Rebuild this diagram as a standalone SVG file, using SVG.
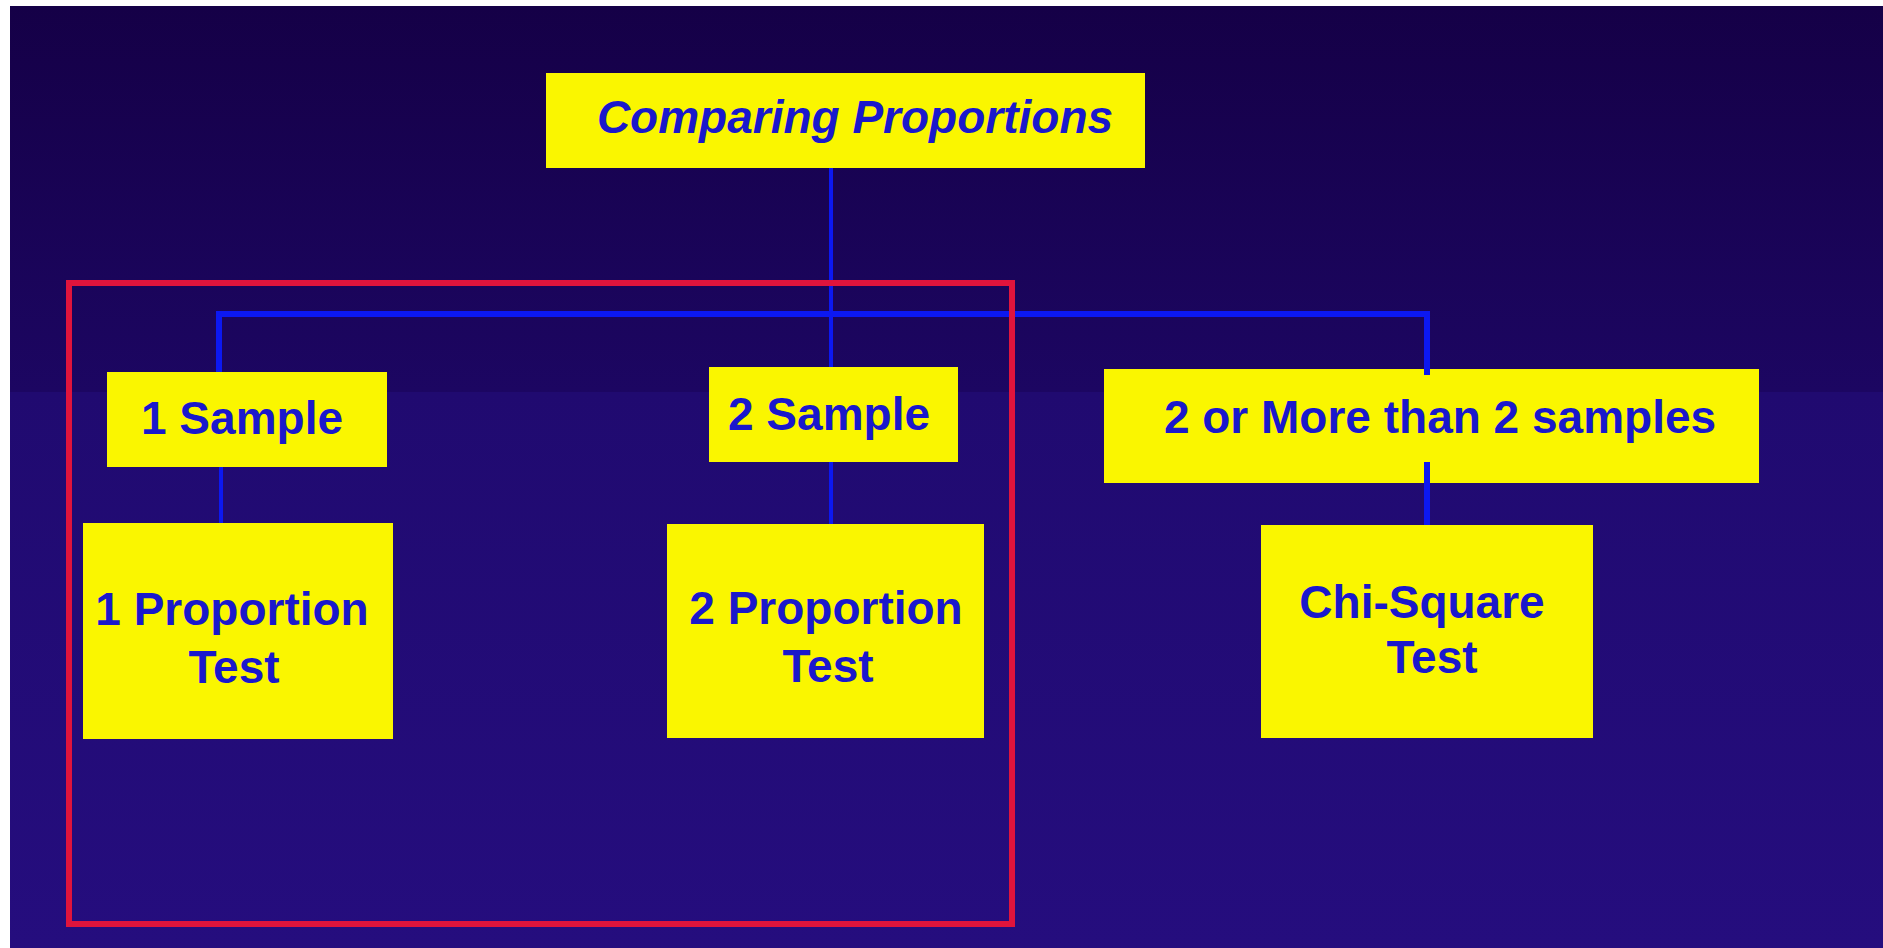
<svg xmlns="http://www.w3.org/2000/svg" width="1883" height="948" viewBox="0 0 1883 948">
  <defs>
    <linearGradient id="bg" x1="0" y1="0" x2="0" y2="1">
      <stop offset="0" stop-color="#150047"/>
      <stop offset="0.41" stop-color="#1c0662"/>
      <stop offset="0.41" stop-color="#200a70"/>
      <stop offset="1" stop-color="#250d7e"/>
    </linearGradient>
    <style>
      .box { fill: #faf600; }
      .lbl { font-family: "Liberation Sans", Arial, sans-serif; font-weight: bold; font-size: 46px; fill: #1a18cc; text-anchor: middle; }
      .title { font-style: italic; }
      .thin { stroke: #0c18f2; stroke-width: 4; fill: none; }
      .thick { stroke: #0c18f2; stroke-width: 6; fill: none; }
      .frame { stroke: #e0143c; stroke-width: 6; fill: none; }
    </style>
  </defs>

  <!-- page and slide background -->
  <rect x="0" y="0" width="1883" height="948" fill="#ffffff"/>
  <rect x="10" y="6" width="1873" height="942" fill="url(#bg)"/>

  <!-- nodes -->
  <g id="node-comparing">
    <rect class="box" x="546" y="73" width="599" height="95"/>
    <text class="lbl title" x="855" y="133">Comparing Proportions</text>
  </g>
  <g id="node-1sample">
    <rect class="box" x="107" y="372" width="280" height="95"/>
    <text class="lbl" x="242" y="434">1 Sample</text>
  </g>
  <g id="node-2sample">
    <rect class="box" x="709" y="367" width="249" height="95"/>
    <text class="lbl" x="829" y="430">2 Sample</text>
  </g>
  <g id="node-2more">
    <rect class="box" x="1104" y="369" width="655" height="114"/>
    <text class="lbl" x="1440" y="433">2 or More than 2 samples</text>
  </g>
  <g id="node-1prop">
    <rect class="box" x="83" y="523" width="310" height="216"/>
    <text class="lbl" x="232" y="625">1 Proportion</text>
    <text class="lbl" x="234" y="683">Test</text>
  </g>
  <g id="node-2prop">
    <rect class="box" x="667" y="524" width="317" height="214"/>
    <text class="lbl" x="826" y="624">2 Proportion</text>
    <text class="lbl" x="828" y="682">Test</text>
  </g>
  <g id="node-chisq">
    <rect class="box" x="1261" y="525" width="332" height="213"/>
    <text class="lbl" x="1422" y="618">Chi-Square</text>
    <text class="lbl" x="1432" y="673">Test</text>
  </g>

  <!-- connectors -->
  <g id="connectors">
    <line class="thin" x1="831" y1="168" x2="831" y2="367"/>
    <polyline class="thick" points="219,372 219,314 1427,314 1427,375"/>
    <line class="thin" x1="221" y1="467" x2="221" y2="523"/>
    <line class="thin" x1="831" y1="462" x2="831" y2="524"/>
    <line class="thick" x1="1427" y1="462" x2="1427" y2="525"/>
  </g>

  <!-- highlight frame round the one- and two-sample branches -->
  <g id="frame">
    <rect class="frame" x="69" y="283" width="943" height="641"/>
  </g>
</svg>
